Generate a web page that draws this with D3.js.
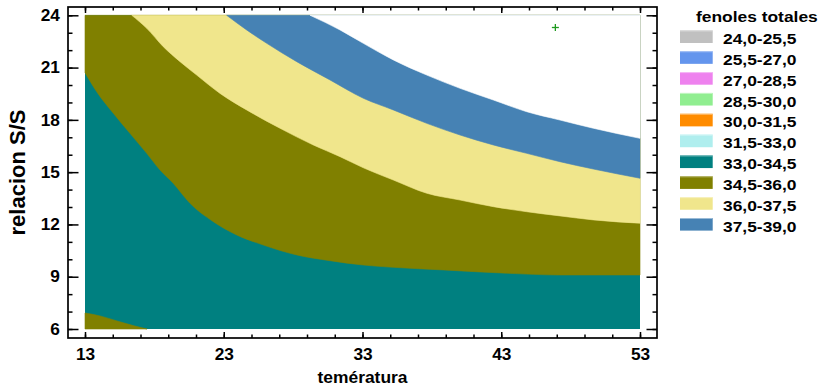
<!DOCTYPE html>
<html>
<head>
<meta charset="utf-8">
<script src="https://cdn.jsdelivr.net/npm/d3@7"></script>
<style>
  html, body { margin: 0; padding: 0; background: #fff; }
  svg { display: block; font-family: "Liberation Sans", Arial, Helvetica, sans-serif; font-weight: bold; }
</style>
</head>
<body>
<svg id="chart" width="821" height="385"></svg>
<script>
// ---- legend classes for "fenoles totales" ----
const legendLabels = ["24,0-25,5", "25,5-27,0", "27,0-28,5", "28,5-30,0", "30,0-31,5",
                      "31,5-33,0", "33,0-34,5", "34,5-36,0", "36,0-37,5", "37,5-39,0"];
const legendColors = ["#c0c0c0", "#6495ed", "#ee82ee", "#90ee90", "#ff8c00",
                      "#afeeee", "#008080", "#808000", "#f0e68c", "#4682b4"];

// ---- axes ----
const xDomain = [13, 53];
const yDomain = [6, 24];
const xTicksMajor = [13, 23, 33, 43, 53];
const xTicksMinor = d3.range(13, 54, 2);
const yTicksMajor = [6, 9, 12, 15, 18, 21, 24];
const yTicksMinor = d3.range(6, 25, 1);

// ---- contour lines: [temperatura, relacion S/S] ----
const iso345 = [[13.0, 20.71], [13.84, 19.62], [15.04, 18.38], [16.24, 17.23], [17.45, 16.08],
                [18.41, 15.12], [19.36, 14.36], [20.57, 13.21], [22.25, 12.16], [23.93, 11.40],
                [25.85, 10.82], [28.26, 10.25], [30.66, 9.92], [33.06, 9.67], [35.22, 9.54],
                [38.82, 9.39], [43.39, 9.20], [47.23, 9.10], [53.0, 9.10]];
const iso345Corner = [[13.0, 6.92], [14.08, 6.75], [15.31, 6.46], [16.60, 6.17], [17.47, 6.0]];
const iso360 = [[16.37, 24.0], [17.45, 23.25], [18.64, 22.20], [19.85, 21.34], [21.05, 20.57],
                [22.73, 19.52], [24.65, 18.57], [27.05, 17.52], [29.45, 16.56], [31.38, 15.89],
                [33.06, 15.25], [35.22, 14.55], [37.63, 13.79], [40.03, 13.40], [42.43, 13.02],
                [44.83, 12.73], [47.23, 12.49], [49.63, 12.26], [53.0, 12.07]];
const iso375 = [[23.21, 24.0], [24.65, 23.16], [26.10, 22.39], [28.26, 21.34], [30.66, 20.29],
                [33.06, 19.24], [35.22, 18.57], [37.63, 17.80], [40.03, 17.13], [42.43, 16.56],
                [44.83, 16.08], [47.23, 15.60], [49.63, 15.18], [53.0, 14.65]];
const iso390 = [[29.22, 24.0], [31.38, 23.16], [33.06, 22.39], [35.22, 21.44], [37.63, 20.57],
                [40.03, 19.81], [42.43, 19.14], [44.83, 18.47], [47.23, 17.99], [49.63, 17.52],
                [53.0, 16.94]];
const optimum = [46.9, 23.3];

// ---- layout ----
const frame = { left: 68, top: 7, right: 657, bottom: 338 };
const svg = d3.select("#chart");
const x = d3.scaleLinear().domain(xDomain).range([85, 640]);
const y = d3.scaleLinear().domain(yDomain).range([329, 15.3]);

const colorOf = label => legendColors[legendLabels.indexOf(label)];

// ---- contour fills ----
const plot = svg.append("g");
const line = d3.line().x(d => x(d[0])).y(d => y(d[1])).curve(d3.curveMonotoneX);
const [x0, x1] = xDomain, [y0, y1] = yDomain;

plot.append("rect")
  .attr("x", x(x0)).attr("y", y(y1))
  .attr("width", x(x1) - x(x0)).attr("height", y(y0) - y(y1))
  .attr("fill", colorOf("33,0-34,5"));

const bands = [
  { pts: iso345, close: [[x1, y1], [x0, y1]], fill: colorOf("34,5-36,0") },
  { pts: iso345Corner, close: [[x0, y0]], fill: colorOf("34,5-36,0") },
  { pts: iso360, close: [[x1, y1]], fill: colorOf("36,0-37,5") },
  { pts: iso375, close: [[x1, y1]], fill: colorOf("37,5-39,0") },
  { pts: iso390, close: [[x1, y1]], fill: "#ffffff" }
];
plot.selectAll("path.band").data(bands).join("path")
  .attr("class", "band")
  .attr("d", b => line(b.pts) + b.close.map(c => `L${x(c[0])},${y(c[1])}`).join("") + "Z")
  .attr("fill", d => d.fill)
  .attr("stroke", d => d.fill)
  .attr("stroke-width", 0.6);

// optimum marker
const om = plot.append("g").attr("stroke", "#1f9a1f").attr("stroke-width", 1.3);
om.append("line").attr("x1", x(optimum[0]) - 3.5).attr("x2", x(optimum[0]) + 3.5)
  .attr("y1", y(optimum[1])).attr("y2", y(optimum[1]));
om.append("line").attr("x1", x(optimum[0])).attr("x2", x(optimum[0]))
  .attr("y1", y(optimum[1]) - 3.5).attr("y2", y(optimum[1]) + 3.5);

// ---- axes ----
function styleAxis(g) {
  g.select(".domain").remove();
  g.selectAll(".tick line").attr("stroke", "#000").attr("stroke-width", 1.5);
}
const noLabel = () => "";

// bottom
svg.append("g").attr("transform", `translate(0,${frame.bottom})`)
  .call(d3.axisBottom(x).tickValues(xTicksMinor).tickSize(-3.5).tickFormat(noLabel)).call(styleAxis);
const xb = svg.append("g").attr("transform", `translate(0,${frame.bottom})`)
  .call(d3.axisBottom(x).tickValues(xTicksMajor).tickSize(-6).tickPadding(11).tickFormat(d3.format("d")))
  .call(styleAxis);
xb.selectAll(".tick text").attr("font-size", 16).attr("font-family", null).attr("fill", "#000")
  .attr("transform", "scale(1.08,1)");

// top
svg.append("g").attr("transform", `translate(0,${frame.top})`)
  .call(d3.axisTop(x).tickValues(xTicksMinor).tickSize(-3.5).tickFormat(noLabel)).call(styleAxis);
svg.append("g").attr("transform", `translate(0,${frame.top})`)
  .call(d3.axisTop(x).tickValues(xTicksMajor).tickSize(-6).tickFormat(noLabel)).call(styleAxis);

// left
svg.append("g").attr("transform", `translate(${frame.left},0)`)
  .call(d3.axisLeft(y).tickValues(yTicksMinor).tickSize(-4.5).tickFormat(noLabel)).call(styleAxis);
const yl = svg.append("g").attr("transform", `translate(${frame.left},0)`)
  .call(d3.axisLeft(y).tickValues(yTicksMajor).tickSize(-10.5).tickPadding(7.5).tickFormat(d3.format("d")))
  .call(styleAxis);
yl.selectAll(".tick text").attr("font-size", 16).attr("font-family", null).attr("fill", "#000")
  .attr("transform", "scale(1.08,1)");

// right
svg.append("g").attr("transform", `translate(${frame.right},0)`)
  .call(d3.axisRight(y).tickValues(yTicksMinor).tickSize(-4.5).tickFormat(noLabel)).call(styleAxis);
svg.append("g").attr("transform", `translate(${frame.right},0)`)
  .call(d3.axisRight(y).tickValues(yTicksMajor).tickSize(-10.5).tickFormat(noLabel)).call(styleAxis);

// frame
svg.append("rect")
  .attr("x", frame.left).attr("y", frame.top)
  .attr("width", frame.right - frame.left).attr("height", frame.bottom - frame.top)
  .attr("fill", "none").attr("stroke", "#000").attr("stroke-width", 1.7);

// axis titles
svg.append("text")
  .attr("transform", `translate(${(x(x0) + x(x1)) / 2},383) scale(1.09,1)`)
  .attr("text-anchor", "middle").attr("font-size", 16).attr("fill", "#000")
  .text("temératura");
svg.append("text")
  .attr("transform", `translate(25,${(frame.top + frame.bottom) / 2}) rotate(-90)`)
  .attr("text-anchor", "middle").attr("font-size", 22).attr("fill", "#000")
  .text("relacion S/S");

// ---- legend ----
const legend = svg.append("g");
legend.append("text")
  .attr("transform", "translate(696,22) scale(1.16,1)")
  .attr("font-size", 15).attr("fill", "#000")
  .text("fenoles totales");

const rowY = d3.scaleLinear().domain([0, legendLabels.length - 1]).range([36.7, 224.3]);
const rows = legend.selectAll("g.row").data(legendLabels).join("g")
  .attr("class", "row")
  .attr("transform", (d, i) => `translate(680,${rowY(i)})`);
rows.append("rect")
  .attr("x", 0).attr("y", -6.3).attr("width", 32.7).attr("height", 12.6)
  .attr("fill", (d, i) => legendColors[i]);
rows.append("line")
  .attr("x1", 0).attr("x2", 32.7).attr("y1", -5.8).attr("y2", -5.8)
  .attr("stroke", (d, i) => d3.interpolateRgb(legendColors[i], "#ffffff")(0.45))
  .attr("stroke-width", 1);
rows.append("text")
  .attr("transform", "translate(43,7.4) scale(1.16,1)")
  .attr("font-size", 15).attr("fill", "#000")
  .text(d => d);
</script>
</body>
</html>
